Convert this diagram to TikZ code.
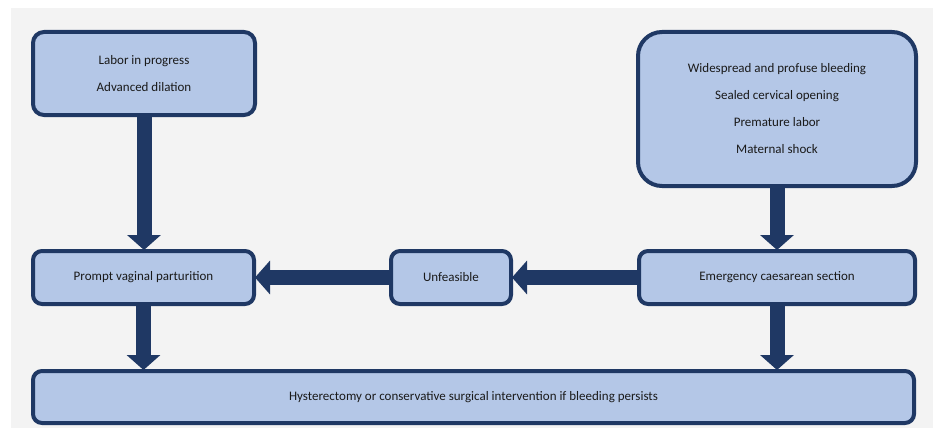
\documentclass[tikz,border=0pt]{standalone}
\usepackage{fontspec}
\setmainfont{Carlito}
\usetikzlibrary{arrows.meta}
\definecolor{navy}{HTML}{1F3864}
\definecolor{boxfill}{HTML}{B4C7E7}
\definecolor{bggray}{HTML}{F3F3F3}
\definecolor{txt}{HTML}{1A1A1A}
\tikzset{
  box/.style={draw=navy, fill=boxfill, line width=4pt, rounded corners=11pt,
    align=center, inner sep=0pt, text=txt, font=\fontsize{13}{27}\selectfont},
  fat/.style={draw=navy, line width=15pt,
    -{Triangle[width=33pt,length=15pt]}, shorten >=-1pt}
}
\begin{document}
\begin{tikzpicture}[x=1pt,y=-1pt]
\useasboundingbox (0,0) rectangle (933,428);
\fill[white] (0,0) rectangle (933,428);
\fill[bggray] (11,8) rectangle (933,428);
\node[box, minimum width=222pt, minimum height=83pt] (A) at (144,73.5)
  {Labor in progress\\Advanced dilation};
\node[box, minimum width=278pt, minimum height=154pt, rounded corners=24pt] (B) at (777,109)
  {Widespread and profuse bleeding\\Sealed cervical opening\\Premature labor\\Maternal shock};
\node[box, minimum width=221pt, minimum height=53pt, rounded corners=9pt] (P) at (143.5,277.5)
  {Prompt vaginal parturition};
\node[box, minimum width=120pt, minimum height=53pt, rounded corners=9pt] (U) at (451,277.5)
  {Unfeasible};
\node[box, minimum width=276pt, minimum height=53pt, rounded corners=9pt] (E) at (777,277.5)
  {Emergency caesarean section};
\node[box, minimum width=881pt, minimum height=52pt, rounded corners=9pt] (H) at (473.5,397)
  {Hysterectomy or conservative surgical intervention if bleeding persists};
\draw[fat] (A.south) -- (A.south |- P.north);
\draw[fat] (B.south) -- (B.south |- E.north);
\draw[fat] (U.west) -- (P.east);
\draw[fat] (E.west) -- (U.east);
\draw[fat] (P.south) -- (P.south |- H.north);
\draw[fat] (E.south) -- (E.south |- H.north);
\end{tikzpicture}
\end{document}
